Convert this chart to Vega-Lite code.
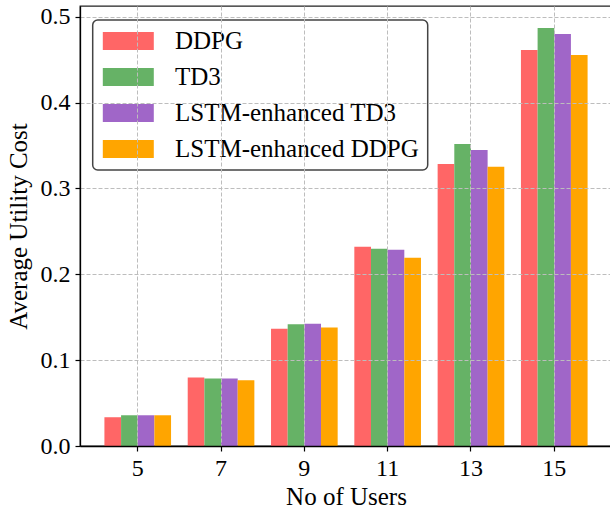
{
  "$schema": "https://vega.github.io/schema/vega-lite/v6.json",
  "width": 532,
  "height": 440,
  "autosize": "none",
  "padding": {"left": 80, "top": 6, "right": 0, "bottom": 62},
  "background": "white",
  "config": {
    "font": "Liberation Serif",
    "view": {"stroke": "#222", "strokeWidth": 1.3},
    "axis": {
      "labelFont": "Liberation Serif",
      "titleFont": "Liberation Serif",
      "labelColor": "black",
      "titleColor": "black",
      "titleFontWeight": "normal",
      "domainColor": "black",
      "domainWidth": 1.3,
      "tickColor": "black",
      "tickWidth": 1.2,
      "tickSize": 5,
      "gridColor": "#bdbdbd",
      "gridDash": [4, 2],
      "gridWidth": 1
    }
  },
  "data": {
    "values": [
      {"users": 5, "algorithm": "DDPG", "cost": 0.0335},
      {"users": 5, "algorithm": "TD3", "cost": 0.0358},
      {"users": 5, "algorithm": "LSTM-enhanced TD3", "cost": 0.0358},
      {"users": 5, "algorithm": "LSTM-enhanced DDPG", "cost": 0.0358},
      {"users": 7, "algorithm": "DDPG", "cost": 0.0797},
      {"users": 7, "algorithm": "TD3", "cost": 0.0785},
      {"users": 7, "algorithm": "LSTM-enhanced TD3", "cost": 0.0785},
      {"users": 7, "algorithm": "LSTM-enhanced DDPG", "cost": 0.0766},
      {"users": 9, "algorithm": "DDPG", "cost": 0.1367},
      {"users": 9, "algorithm": "TD3", "cost": 0.1417},
      {"users": 9, "algorithm": "LSTM-enhanced TD3", "cost": 0.1425},
      {"users": 9, "algorithm": "LSTM-enhanced DDPG", "cost": 0.1379},
      {"users": 11, "algorithm": "DDPG", "cost": 0.232},
      {"users": 11, "algorithm": "TD3", "cost": 0.2298},
      {"users": 11, "algorithm": "LSTM-enhanced TD3", "cost": 0.2286},
      {"users": 11, "algorithm": "LSTM-enhanced DDPG", "cost": 0.2193},
      {"users": 13, "algorithm": "DDPG", "cost": 0.3286},
      {"users": 13, "algorithm": "TD3", "cost": 0.3519},
      {"users": 13, "algorithm": "LSTM-enhanced TD3", "cost": 0.3449},
      {"users": 13, "algorithm": "LSTM-enhanced DDPG", "cost": 0.3252},
      {"users": 15, "algorithm": "DDPG", "cost": 0.4613},
      {"users": 15, "algorithm": "TD3", "cost": 0.4868},
      {"users": 15, "algorithm": "LSTM-enhanced TD3", "cost": 0.4799},
      {"users": 15, "algorithm": "LSTM-enhanced DDPG", "cost": 0.4554}
    ]
  },
  "mark": {"type": "bar", "opacity": 1},
  "encoding": {
    "x": {
      "field": "users",
      "type": "ordinal",
      "sort": "ascending",
      "scale": {"paddingInner": 0.2, "paddingOuter": 0.293},
      "axis": {
        "title": "No of Users",
        "labelAngle": 0,
        "labelFontSize": 24,
        "titleFontSize": 25,
        "labelPadding": 5,
        "titlePadding": 4,
        "grid": true,
        "bandPosition": 0.5,
        "zindex": 1
      }
    },
    "xOffset": {
      "field": "algorithm",
      "type": "nominal",
      "sort": ["DDPG", "TD3", "LSTM-enhanced TD3", "LSTM-enhanced DDPG"],
      "scale": {"paddingInner": 0, "paddingOuter": 0}
    },
    "y": {
      "field": "cost",
      "type": "quantitative",
      "scale": {"domain": [0, 0.5125], "nice": false},
      "axis": {
        "title": "Average Utility Cost",
        "values": [0, 0.1, 0.2, 0.3, 0.4, 0.5],
        "format": ".1f",
        "labelFontSize": 24,
        "titleFontSize": 25,
        "labelPadding": 5,
        "titlePadding": 9,
        "grid": true,
        "zindex": 1
      }
    },
    "color": {
      "field": "algorithm",
      "type": "nominal",
      "scale": {
        "domain": ["DDPG", "TD3", "LSTM-enhanced TD3", "LSTM-enhanced DDPG"],
        "range": ["#ff6666", "#66b266", "#a066c8", "#ffa500"]
      },
      "legend": {
        "title": null,
        "orient": "none",
        "legendX": 12.7,
        "legendY": 14,
        "symbolType": "M-2,-0.7H2V0.7H-2Z",
        "symbolSize": 650,
        "symbolStrokeWidth": 0,
        "symbolOpacity": 1,
        "symbolOffset": 14.6,
        "labelFont": "Liberation Serif",
        "labelFontSize": 25,
        "labelColor": "black",
        "labelOffset": 33.7,
        "labelLimit": 0,
        "padding": 8,
        "rowPadding": 10,
        "strokeColor": "#444",
        "fillColor": "white",
        "cornerRadius": 5,
        "encode": {"legend": {"update": {"strokeWidth": {"value": 1.5}}}}
      }
    }
  }
}
